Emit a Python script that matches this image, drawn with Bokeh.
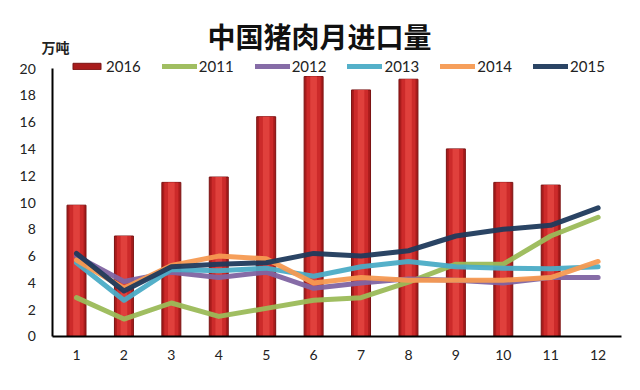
from bokeh.plotting import figure
from bokeh.models import Legend, LegendItem, FixedTicker, Label, Range1d, ColumnDataSource, LinearAxis
from bokeh.embed import file_html
from bokeh.resources import INLINE

months = [1, 2, 3, 4, 5, 6, 7, 8, 9, 10, 11, 12]
bar_months = [1, 2, 3, 4, 5, 6, 7, 8, 9, 10, 11]
y2016 = [9.8, 7.5, 11.5, 11.9, 16.4, 19.4, 18.4, 19.2, 14.0, 11.5, 11.3]
y2011 = [2.9, 1.3, 2.5, 1.5, 2.1, 2.7, 2.9, 4.05, 5.4, 5.4, 7.5, 8.9]
y2012 = [6.0, 4.1, 4.8, 4.4, 4.8, 3.6, 4.0, 4.3, 4.2, 4.0, 4.4, 4.4]
y2013 = [5.5, 2.7, 5.0, 4.9, 5.1, 4.5, 5.2, 5.6, 5.2, 5.1, 5.05, 5.2]
y2014 = [5.7, 3.6, 5.3, 6.0, 5.8, 4.0, 4.4, 4.2, 4.2, 4.2, 4.4, 5.6]
y2015 = [6.2, 3.4, 5.2, 5.4, 5.5, 6.2, 6.0, 6.4, 7.5, 8.0, 8.3, 9.6]
y_ticks = [0, 2, 4, 6, 8, 10, 12, 14, 16, 18, 20]
title_text = "中国猪肉月进口量"
unit_text = "万吨"

series = [
    ("2011", y2011, "#9bbb59"),
    ("2012", y2012, "#8064a2"),
    ("2013", y2013, "#4bacc6"),
    ("2014", y2014, "#f59a52"),
    ("2015", y2015, "#1f3a5c"),
]

p = figure(width=624, height=374, output_backend="svg", toolbar_location=None,
           x_range=Range1d(-0.603, 12.556), y_range=Range1d(-2.836, 25.075),
           x_axis_location=None, y_axis_location=None,
           min_border_left=0, min_border_right=0, min_border_top=0, min_border_bottom=0)
p.xgrid.visible = False
p.ygrid.visible = False
p.outline_line_color = None
p.background_fill_color = "white"

src = ColumnDataSource(dict(x=bar_months, top=y2016))
bar = p.vbar(x="x", top="top", width=0.4, source=src, fill_color="#a81c1c", line_color="#7a1212", line_width=1)
p.vbar(x="x", top="top", width=0.3, source=src, fill_color="#cc2a2a", line_color=None)
p.vbar(x="x", top="top", width=0.14, source=src, fill_color="#e0403c", line_color=None)

items = [LegendItem(label="2016", renderers=[bar])]
for name, ys, col in series:
    r = p.line(months, ys, line_color=col, line_width=5, line_alpha=0.95, line_join="round", line_cap="round")
    items.append(LegendItem(label=name, renderers=[r]))

font = "Lato"
xaxis = LinearAxis(fixed_location=0, bounds=(0.5, 12.5), ticker=FixedTicker(ticks=months))
yaxis = LinearAxis(fixed_location=0.5, bounds=(0, 20), ticker=FixedTicker(ticks=y_ticks))
for ax in (xaxis, yaxis):
    ax.major_tick_line_color = None
    ax.minor_tick_line_color = None
    ax.axis_line_color = "black"
    ax.axis_line_width = 2
    ax.major_label_text_font = font
    ax.major_label_text_font_size = "14px"
    ax.major_label_text_color = "#222222"
yaxis.major_label_standoff = 11
xaxis.major_label_standoff = 8
p.add_layout(xaxis, "below")
p.add_layout(yaxis, "left")

legend = Legend(items=items, orientation="horizontal", location=(69, 299),
                glyph_width=35, glyph_height=8, label_standoff=2, spacing=21,
                padding=0, margin=0, border_line_color=None, background_fill_alpha=0,
                label_text_font=font, label_text_font_size="15px", label_text_color="#222222",
                label_height=15)
p.add_layout(legend, "center")

p.add_layout(Label(x=319, y=339, x_units="screen", y_units="screen", text=title_text,
                   text_font="Noto Sans CJK SC", text_font_style="bold", text_font_size="28px",
                   text_align="center", text_baseline="middle", text_color="#111111"))
p.add_layout(Label(x=55, y=328, x_units="screen", y_units="screen", text=unit_text,
                   text_font="Noto Sans CJK SC", text_font_style="bold", text_font_size="14px",
                   text_align="center", text_baseline="middle", text_color="#222222"))

open("out.html", "w").write(file_html(p, INLINE))
